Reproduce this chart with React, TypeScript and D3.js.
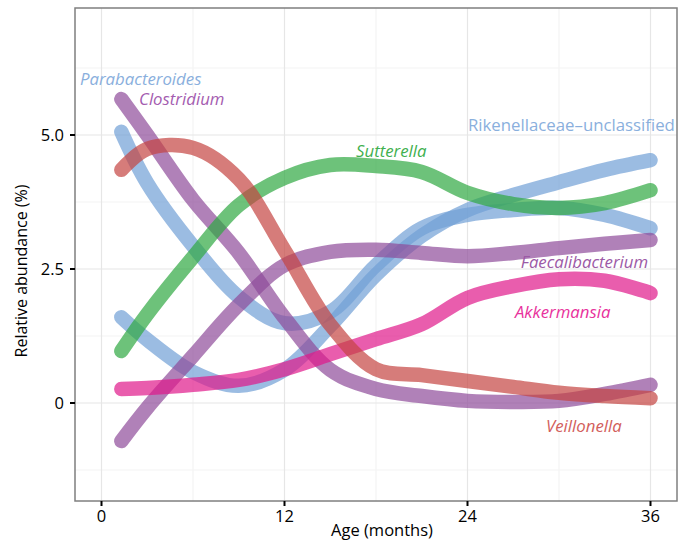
import React from "react";
import * as d3 from "d3";

// Age in months at which each smoothed trend is sampled
const months = [1.3, 3, 6, 9, 12, 15, 18, 21, 24, 27, 30, 33, 36];

// Smoothed relative abundance (%) per genus
const parabacteroides = [5.06, 4.1, 2.93, 1.98, 1.49, 1.7, 2.57, 3.26, 3.51, 3.6, 3.64, 3.51, 3.26];
const rikenellaceae = [1.6, 1.18, 0.58, 0.32, 0.62, 1.44, 2.39, 3.12, 3.6, 3.88, 4.12, 4.35, 4.53];
const clostridium = [5.67, 5.0, 3.79, 2.8, 1.59, 0.62, 0.26, 0.13, 0.04, 0.02, 0.04, 0.17, 0.34];
const faecalibacterium = [-0.71, -0.09, 0.88, 1.83, 2.57, 2.82, 2.86, 2.8, 2.74, 2.8, 2.89, 2.97, 3.04];
const veillonella = [4.35, 4.74, 4.76, 4.18, 2.85, 1.46, 0.63, 0.52, 0.41, 0.3, 0.19, 0.13, 0.09];
const sutterella = [0.97, 1.66, 2.72, 3.69, 4.2, 4.44, 4.42, 4.31, 3.92, 3.71, 3.64, 3.73, 3.97];
const akkermansia = [0.26, 0.28, 0.34, 0.43, 0.63, 0.91, 1.19, 1.47, 1.96, 2.18, 2.31, 2.28, 2.05];

const seriesNames = [
  "Rikenellaceae–unclassified",
  "Parabacteroides",
  "Faecalibacterium",
  "Clostridium",
  "Sutterella",
  "Akkermansia",
  "Veillonella",
];
const seriesValues = [
  rikenellaceae,
  parabacteroides,
  faecalibacterium,
  clostridium,
  sutterella,
  akkermansia,
  veillonella,
];
const seriesColors = ["#709fd5", "#709fd5", "#8e4b9a", "#8e4b9a", "#2fa842", "#e0188a", "#c44441"];

// Text labels placed in data space (month, value)
const labelTexts = [
  "Parabacteroides",
  "Clostridium",
  "Sutterella",
  "Rikenellaceae–unclassified",
  "Faecalibacterium",
  "Akkermansia",
  "Veillonella",
];
const labelMonths = [-1.41, 2.46, 16.69, 24.03, 27.5, 27.11, 29.15];
const labelValues = [5.93, 5.56, 4.59, 5.07, 2.52, 1.59, -0.54];
const labelColors = ["#8aafdd", "#a45cb0", "#3fb04f", "#8aafdd", "#9c5aa6", "#e8329c", "#d25e5c"];
const labelItalic = [true, true, true, false, true, true, true];

const xMajor = [0, 12, 24, 36];
const xMinor = [6, 18, 30];
const yMajor = [0, 2.5, 5.0];
const yMinor = [-1.25, 1.25, 3.75, 6.25];
const yTickLabels = ["0", "2.5", "5.0"];

const W = 694;
const H = 548;
const FONT = "'Open Sans', 'Noto Sans', sans-serif";

export default function App() {
  const x = d3.scaleLinear().domain([-1.738, 37.738]).range([75, 677]);
  const y = d3.scaleLinear().domain([-1.828, 7.369]).range([501, 8]);
  const [x0, x1] = x.range();
  const [y0, y1] = y.range();

  const line = d3
    .line<number>()
    .x((_, i) => x(months[i]))
    .y((d) => y(d))
    .curve(d3.curveCatmullRom.alpha(0.5));

  return (
    <svg
      width={W}
      height={H}
      style={{ position: "absolute", left: 0, top: 0, background: "#fff" }}
      fontFamily={FONT}
    >
      <defs>
        <clipPath id="panel">
          <rect x={x0} y={y1} width={x1 - x0} height={y0 - y1} />
        </clipPath>
      </defs>
      <rect x={x0} y={y1} width={x1 - x0} height={y0 - y1} fill="#fff" />
      {xMinor.map((v) => (
        <line key={"xm" + v} x1={x(v)} x2={x(v)} y1={y1} y2={y0} stroke="#f4f4f4" strokeWidth={1.2} />
      ))}
      {yMinor.map((v) => (
        <line key={"ym" + v} x1={x0} x2={x1} y1={y(v)} y2={y(v)} stroke="#f4f4f4" strokeWidth={1.2} />
      ))}
      {xMajor.map((v) => (
        <line key={"xM" + v} x1={x(v)} x2={x(v)} y1={y1} y2={y0} stroke="#e6e6e6" strokeWidth={1.2} />
      ))}
      {yMajor.map((v) => (
        <line key={"yM" + v} x1={x0} x2={x1} y1={y(v)} y2={y(v)} stroke="#e6e6e6" strokeWidth={1.2} />
      ))}

      <g clipPath="url(#panel)">
        {seriesValues.map((vals, i) => (
          <path
            key={seriesNames[i]}
            d={line(vals) || ""}
            fill="none"
            stroke={seriesColors[i]}
            strokeOpacity={0.7}
            strokeWidth={14.5}
            strokeLinecap="round"
            strokeLinejoin="round"
          />
        ))}
      </g>

      {labelTexts.map((t, i) => (
        <text
          key={t}
          x={x(labelMonths[i])}
          y={y(labelValues[i])}
          fill={labelColors[i]}
          fontSize={labelItalic[i] ? 16.8 : 16.8}
          fontStyle={labelItalic[i] ? "italic" : "normal"}
        >
          {t}
        </text>
      ))}

      <rect
        x={x0}
        y={y1}
        width={x1 - x0}
        height={y0 - y1}
        fill="none"
        stroke="#7f7f7f"
        strokeWidth={1.5}
      />

      {/* x axis */}
      {xMajor.map((v) => (
        <g key={"xt" + v}>
          <line x1={x(v)} x2={x(v)} y1={y0} y2={y0 + 5} stroke="#000" strokeWidth={2} />
          <text x={x(v)} y={y0 + 21} textAnchor="middle" fontSize={16.5} fill="#000">
            {String(v)}
          </text>
        </g>
      ))}
      {/* y axis */}
      {yMajor.map((v, i) => (
        <g key={"yt" + v}>
          <line x1={x0 - 5} x2={x0} y1={y(v)} y2={y(v)} stroke="#000" strokeWidth={2} />
          <text x={x0 - 11} y={y(v) + 6} textAnchor="end" fontSize={16.5} fill="#000">
            {yTickLabels[i]}
          </text>
        </g>
      ))}

      <text x={382} y={536} textAnchor="middle" fontSize={16.5} fill="#000">
        Age (months)
      </text>
      <text
        transform={`translate(27, 271) rotate(-90)`}
        textAnchor="middle"
        fontSize={16}
        fill="#000"
      >
        Relative abundance (%)
      </text>
    </svg>
  );
}
